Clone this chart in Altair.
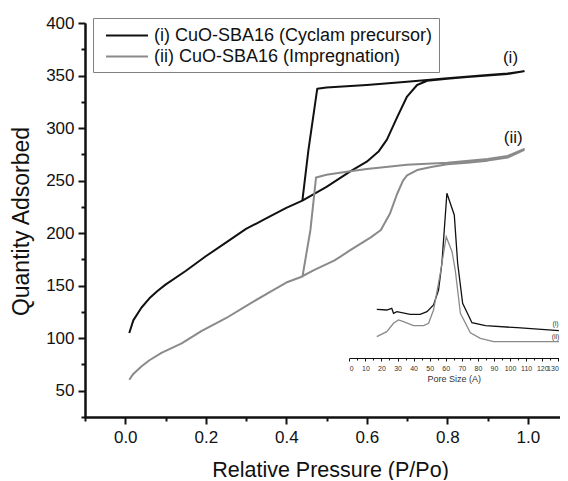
import altair as alt
import pandas as pd

# ---------------- main isotherms ----------------
S1 = "(i) CuO-SBA16 (Cyclam precursor)"
S2 = "(ii) CuO-SBA16 (Impregnation)"

i_ads_x = [0.01, 0.02, 0.04, 0.06, 0.08, 0.10, 0.15, 0.20, 0.25, 0.30, 0.35, 0.40, 0.44, 0.50,
           0.56, 0.60, 0.63, 0.65, 0.675, 0.70, 0.725, 0.75, 0.80, 0.85, 0.90, 0.95, 0.99]
i_ads_y = [105, 117, 129, 138, 145, 151, 164, 178, 191, 204, 214, 224, 231, 244,
           259, 268, 278, 289, 310, 330, 341, 345, 347, 348.5, 350, 351.5, 354]
i_des_x = [0.99, 0.95, 0.90, 0.80, 0.70, 0.60, 0.50, 0.477, 0.455, 0.44]
i_des_y = [354, 352, 350.5, 347.5, 344, 341, 338.5, 337.5, 279, 231]

ii_ads_x = [0.01, 0.02, 0.04, 0.06, 0.09, 0.14, 0.19, 0.25, 0.31, 0.36, 0.40, 0.435, 0.47, 0.52,
            0.56, 0.61, 0.635, 0.658, 0.675, 0.69, 0.70, 0.725, 0.76, 0.80, 0.85, 0.90, 0.95, 0.99]
ii_ads_y = [60.5, 66, 73, 79, 86, 95, 107, 119, 133, 144, 153, 158, 165, 174,
            184, 196, 203, 219, 237, 250, 255, 260, 263, 265.5, 267, 269, 272, 279]
ii_des_x = [0.99, 0.95, 0.90, 0.80, 0.70, 0.60, 0.55, 0.50, 0.474, 0.46, 0.44]
ii_des_y = [280, 273.5, 270.5, 267, 265, 261, 258.5, 255.5, 253, 203, 158]

label_text = ["(i)", "(ii)"]
label_x = [0.957, 0.964]
label_y = [367, 291]

# axis ticks
x_major = [0.0, 0.2, 0.4, 0.6, 0.8, 1.0]
x_minor = [-0.1, 0.1, 0.3, 0.5, 0.7, 0.9]
y_major = [50, 100, 150, 200, 250, 300, 350, 400]
y_minor = [25, 75, 125, 175, 225, 275, 325, 375]

# ---------------- inset: pore size distribution ----------------
p1_x = [17.1, 23.3, 26.4, 27.5, 29.6, 37.9, 44.1, 48.3, 52.4, 55.5, 57.6, 60.7, 65.3, 67.4,
        70.5, 76.3, 84.7, 104.4, 130.4]
p1_y = [48.7, 48, 49.7, 44.7, 46.3, 43.7, 43.7, 46.3, 53, 68, 94.7, 164.7, 143, 94.7,
        54.7, 35.3, 32.3, 30.3, 27.3]
p2_x = [17.1, 23.3, 27.5, 30.6, 33.7, 39.9, 46.2, 49.3, 52.4, 56.6, 60.3, 63.9, 65.9, 69.1,
        75.3, 81.5, 89.8, 130.4]
p2_y = [21.3, 26.3, 34.7, 38, 36.3, 32.3, 32.3, 34.7, 48, 84.7, 121.3, 106.3, 88, 44.7,
        25.3, 19.7, 16.3, 16.3]
inset_label_text = ["(i)", "(ii)"]
inset_label_x = [128.3, 128.3]
inset_label_y = [34, 21.3]
inset_major = list(range(0, 131, 10))
inset_minor = list(range(5, 130, 10))

FONT = "Liberation Sans"
BLACK = "#111111"
GRAY = "#8a8a8a"

rows = []
k = 0
for s, xs, ys in [(S1, i_ads_x + i_des_x, i_ads_y + i_des_y),
                  (S2, ii_ads_x + ii_des_x, ii_ads_y + ii_des_y)]:
    for x, y in zip(xs, ys):
        rows.append({"series": s, "p": x, "q": y, "idx": k})
        k += 1
main_df = pd.DataFrame(rows)
lab_df = pd.DataFrame({"t": label_text, "p": label_x, "q": label_y})

irows = []
k = 0
for s, xs, ys in [(S1, p1_x, p1_y), (S2, p2_x, p2_y)]:
    for x, y in zip(xs, ys):
        irows.append({"series": s, "d": x, "v": y, "idx": k})
        k += 1
inset_df = pd.DataFrame(irows)
ilab_df = pd.DataFrame({"t": inset_label_text, "d": inset_label_x, "v": inset_label_y})

color_scale = alt.Scale(domain=[S1, S2], range=[BLACK, GRAY])


def xsc():
    return alt.Scale(domain=[-0.1, 1.08], nice=False, zero=False)


def ysc():
    return alt.Scale(domain=[25, 400], nice=False, zero=False)


common = dict(grid=False, domainColor=BLACK, domainWidth=2, tickColor=BLACK, tickWidth=2,
              labelFont=FONT, labelColor=BLACK, labelOverlap=False)

x_axis_major = alt.Axis(
    orient="bottom", values=x_major, format=".1f", tickSize=7,
    labelFontSize=17, labelPadding=5,
    title="Relative Pressure (P/Po)", titleFont=FONT, titleFontSize=21.5, titleFontWeight="normal",
    titleColor=BLACK, titleX=245, titleY=59, titleBaseline="alphabetic", **common,
)
y_axis_major = alt.Axis(
    orient="left", values=y_major, format="d", tickSize=7,
    labelFontSize=17, labelPadding=4,
    title="Quantity Adsorbed", titleFont=FONT, titleFontSize=23, titleFontWeight="normal",
    titleColor=BLACK, titleX=-57, titleY=198, titleBaseline="alphabetic", titleAngle=270, **common,
)
x_axis_minor = alt.Axis(orient="bottom", values=x_minor, tickSize=4, labels=False, title=None,
                        grid=False, domainColor=BLACK, domainWidth=2, tickColor=BLACK, tickWidth=2)
y_axis_minor = alt.Axis(orient="left", values=y_minor, tickSize=4, labels=False, title=None,
                        grid=False, domainColor=BLACK, domainWidth=2, tickColor=BLACK, tickWidth=2)

main_lines = alt.Chart(main_df).mark_line(strokeWidth=2, strokeJoin="round").encode(
    x=alt.X("p:Q", scale=xsc(), axis=x_axis_major),
    y=alt.Y("q:Q", scale=ysc(), axis=y_axis_major),
    color=alt.Color("series:N", scale=color_scale, sort=[S1, S2],
                    legend=alt.Legend(title=None, orient="none", legendX=8, legendY=-5,
                                      strokeColor="#808080", fillColor="white", padding=6,
                                      labelFont=FONT, labelFontSize=18, labelColor=BLACK,
                                      labelLimit=500,
                                      symbolType="M-1,0H3", symbolSize=441, symbolStrokeWidth=2,
                                      symbolOffset=6, labelOffset=26, rowPadding=0)),
    order="idx:Q",
)
main_labels = alt.Chart(lab_df).mark_text(font=FONT, fontSize=17, color=BLACK).encode(
    x=alt.X("p:Q", scale=xsc(), axis=x_axis_minor),
    y=alt.Y("q:Q", scale=ysc(), axis=y_axis_minor),
    text="t:N",
)


def ixsc():
    return alt.Scale(domain=[0, 130], range=[264.3, 473.3], nice=False, zero=False)


def iysc():
    return alt.Scale(domain=[0, 168], range=[335, 167], nice=False, zero=False)


ix_axis_major = alt.Axis(
    orient="bottom", offset=-59, values=inset_major, format="d", tickSize=3, labelOverlap=False,
    grid=False, domainColor=BLACK, domainWidth=1, tickColor=BLACK, tickWidth=1,
    labelFont=FONT, labelFontSize=7, labelColor="#333333", labelPadding=3,
    title="Pore Size (A)", titleFont=FONT, titleFontSize=9, titleFontWeight="normal",
    titleColor="#333333", titlePadding=3,
)
ix_axis_minor = alt.Axis(
    orient="bottom", offset=-59, values=inset_minor, tickSize=2, labels=False, title=None,
    grid=False, domainColor=BLACK, domainWidth=1, tickColor=BLACK, tickWidth=1,
)
inset_lines = alt.Chart(inset_df).mark_line(strokeWidth=1.3).encode(
    x=alt.X("d:Q", scale=ixsc(), axis=ix_axis_major),
    y=alt.Y("v:Q", scale=iysc(), axis=None),
    color=alt.Color("series:N", scale=color_scale, legend=None),
    order="idx:Q",
)
inset_labels = alt.Chart(ilab_df).mark_text(font=FONT, fontSize=7, color="#333333").encode(
    x=alt.X("d:Q", scale=ixsc(), axis=ix_axis_minor),
    y=alt.Y("v:Q", scale=iysc(), axis=None),
    text="t:N",
)

chart = alt.layer(main_lines, main_labels, inset_lines, inset_labels).resolve_scale(
    x="independent", y="independent"
).resolve_axis(x="independent", y="independent").properties(
    width=475, height=394,
    autosize=alt.AutoSizeParams(type="none"),
    padding={"left": 77, "top": 15, "right": 0, "bottom": 63},
    background="white",
).configure_view(stroke=None)

chart.save("out.html", embed_options={"renderer": "svg", "actions": False})
